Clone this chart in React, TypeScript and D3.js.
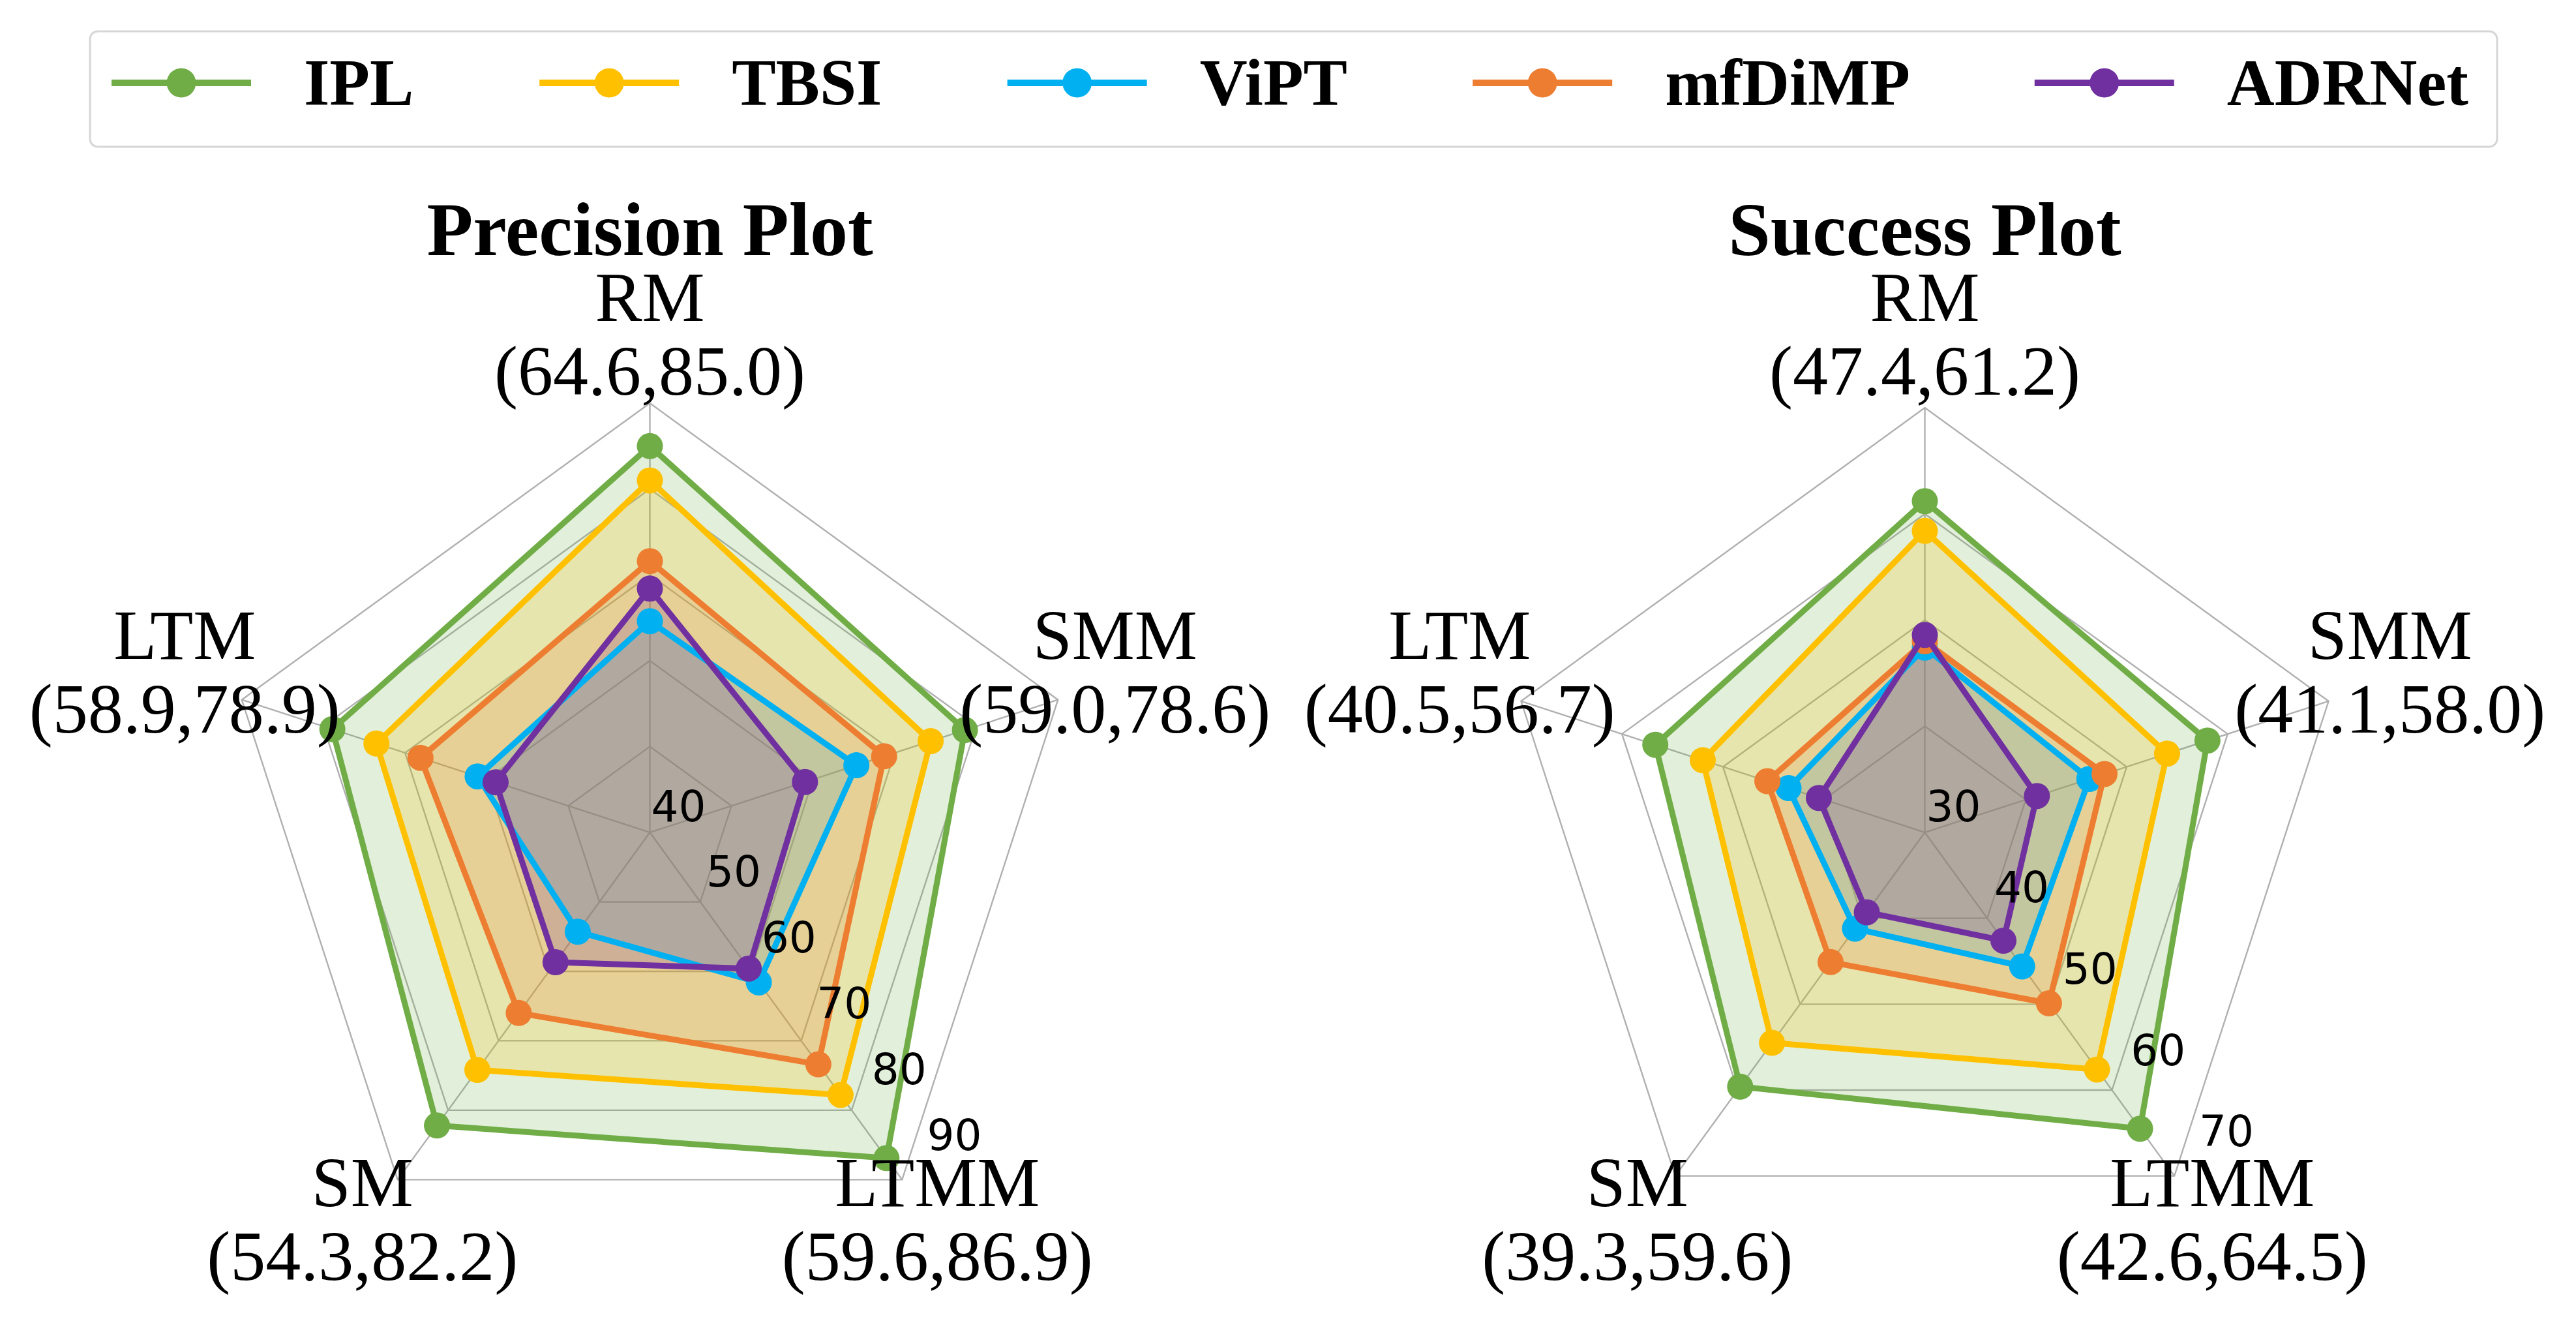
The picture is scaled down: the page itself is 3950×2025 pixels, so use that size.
import React from 'react';
import * as d3 from 'd3';

const axisNames = ['RM', 'SMM', 'LTMM', 'SM', 'LTM'];
const methodNames = ['IPL', 'TBSI', 'ViPT', 'mfDiMP', 'ADRNet'];
const methodColors = ['#70AD47', '#FFC000', '#00B0F0', '#ED7D31', '#7030A0'];

// precision, per method, in axis order
const precIPL = [85.0, 78.6, 86.9, 82.2, 78.9];
const precTBSI = [81.0, 74.4, 77.8, 74.2, 73.5];
const precViPT = [64.6, 65.3, 61.6, 54.3, 61.1];
const precMfDiMP = [71.6, 68.7, 73.4, 66.0, 68.1];
const precADRNet = [68.4, 59.0, 59.6, 58.7, 58.9];

// success
const succIPL = [61.2, 58.0, 64.5, 59.6, 56.7];
const succTBSI = [58.4, 54.0, 57.6, 54.5, 52.0];
const succViPT = [47.4, 46.3, 45.6, 41.2, 43.5];
const succMfDiMP = [48.0, 47.8, 49.9, 45.1, 45.6];
const succADRNet = [48.6, 41.1, 42.6, 39.3, 40.5];

const precisionTicks = [40, 50, 60, 70, 80, 90];
const successTicks = [30, 40, 50, 60, 70];

const W = 3950;
const H = 2025;
const serif = "'Liberation Serif', 'Times New Roman', serif";
const sans = "'DejaVu Sans', sans-serif";

type Series = { name: string; color: string; values: number[] };

const Radar = ({ cx, cy, radius, ticks, series, title }: {
  cx: number; cy: number; radius: number; ticks: number[]; series: Series[]; title: string;
}) => {
  const n = axisNames.length;
  const r = d3.scaleLinear().domain([ticks[0], ticks[ticks.length - 1]]).range([0, radius]);
  const ang = d3.range(n).map(i => (i * 2 * Math.PI) / n);
  const radial = d3.lineRadial<number>()
    .angle((_, i) => ang[i])
    .radius(v => r(v))
    .curve(d3.curveLinearClosed);

  const labelR = 750;
  const tickAng = (140 * Math.PI) / 180;

  return (
    <g>
      <g transform={`translate(${cx},${cy})`}>
        {ticks.slice(1).map(t => (
          <path key={t} d={radial(new Array(n).fill(t)) || ''} fill="none" stroke="#b0b0b0" strokeWidth={2.4} />
        ))}
        {ang.map((a, i) => (
          <line key={i} x1={0} y1={0} x2={radius * Math.sin(a)} y2={-radius * Math.cos(a)} stroke="#b0b0b0" strokeWidth={2.4} />
        ))}
        {series.map(s => (
          <path key={s.name} d={radial(s.values) || ''} fill={s.color} fillOpacity={0.2} stroke="none" />
        ))}
        {series.map(s => (
          <g key={s.name}>
            <path d={radial(s.values) || ''} fill="none" stroke={s.color} strokeWidth={9} strokeLinejoin="round" />
            {s.values.map((v, i) => (
              <circle key={i} cx={r(v) * Math.sin(ang[i])} cy={-r(v) * Math.cos(ang[i])} r={20} fill={s.color} />
            ))}
          </g>
        ))}
        {ticks.map(t => (
          <text key={t}
            x={44 + r(t) * Math.sin(tickAng)}
            y={-40 - r(t) * Math.cos(tickAng)}
            textAnchor="middle" dominantBaseline="central"
            fontFamily={sans} fontSize={66} fill="#000">{t}</text>
        ))}
        {axisNames.map((name, i) => {
          const vals = series.map(s => s.values[i]);
          const lx = labelR * Math.sin(ang[i]);
          const ly = -labelR * Math.cos(ang[i]);
          return (
            <text key={name} textAnchor="middle" fontFamily={serif} fontSize={108} fill="#000">
              <tspan x={lx} y={ly - 34}>{name}</tspan>
              <tspan x={lx} y={ly + 79}>{`(${d3.min(vals)!.toFixed(1)},${d3.max(vals)!.toFixed(1)})`}</tspan>
            </text>
          );
        })}
      </g>
      <text x={cx} y={391} textAnchor="middle" fontFamily={serif} fontWeight="bold" fontSize={116} fill="#000">{title}</text>
    </g>
  );
};

const measure = (txt: string, font: string) => {
  const ctx = document.createElement('canvas').getContext('2d');
  if (!ctx) return txt.length * 60;
  ctx.font = font;
  return ctx.measureText(txt).width;
};

const Legend = () => {
  const font = `bold 100px ${serif}`;
  let x = 171;
  const items = methodNames.map((name, i) => {
    const item = { name, color: methodColors[i], x };
    x = x + 295 + measure(name, font) + 194.5;
    return item;
  });
  return (
    <g>
      <rect x={138} y={48} width={3691} height={177} rx={12} fill="#fff" stroke="#d6d6d6" strokeWidth={3} />
      {items.map(it => (
        <g key={it.name}>
          <line x1={it.x} x2={it.x + 214} y1={127} y2={127} stroke={it.color} strokeWidth={10} />
          <circle cx={it.x + 107} cy={127} r={22.5} fill={it.color} />
          <text x={it.x + 295} y={161} fontFamily={serif} fontWeight="bold" fontSize={101} fill="#000">{it.name}</text>
        </g>
      ))}
    </g>
  );
};

const makeSeries = (rows: number[][]): Series[] =>
  rows.map((values, i) => ({ name: methodNames[i], color: methodColors[i], values }));

export default function App() {
  const precision = makeSeries([precIPL, precTBSI, precViPT, precMfDiMP, precADRNet]);
  const success = makeSeries([succIPL, succTBSI, succViPT, succMfDiMP, succADRNet]);
  return (
    <svg width={W} height={H} viewBox={`0 0 ${W} ${H}`}
      style={{ position: 'absolute', left: 0, top: 0, background: '#fff' }}>
      <rect x={0} y={0} width={W} height={H} fill="#fff" />
      <Radar cx={996.5} cy={1276} radius={658} ticks={precisionTicks} series={precision} title="Precision Plot" />
      <Radar cx={2951.5} cy={1276} radius={651} ticks={successTicks} series={success} title="Success Plot" />
      <Legend />
    </svg>
  );
}
